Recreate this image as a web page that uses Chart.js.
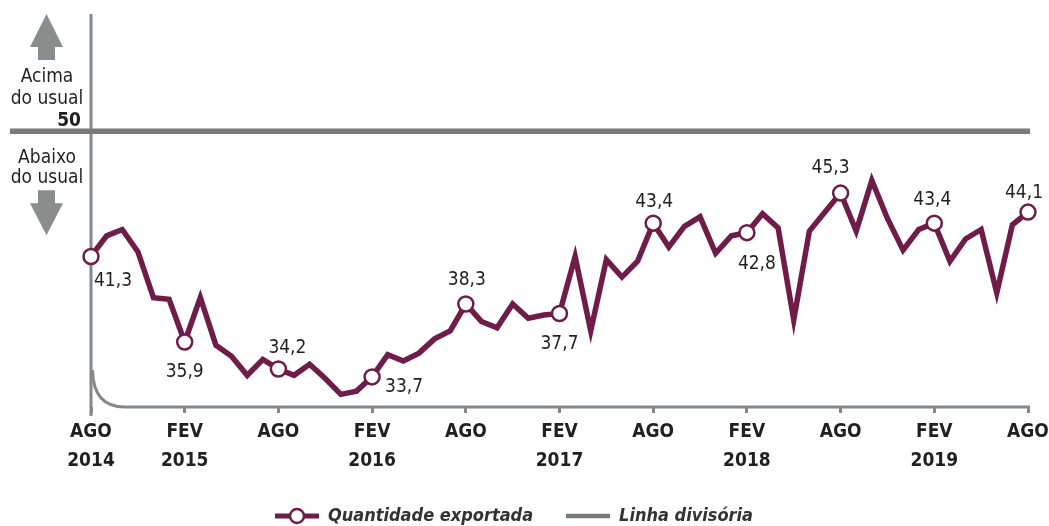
<!DOCTYPE html>
<html lang="pt">
<head>
<meta charset="utf-8">
<title>Quantidade exportada</title>
<script src="https://cdn.jsdelivr.net/npm/chart.js@4.4.1/dist/chart.umd.min.js"></script>
<style>
  html, body { margin: 0; padding: 0; background: #fff; }
  #wrap { width: 1049px; height: 526px; }
</style>
</head>
<body>
<div id="wrap"><canvas id="myChart" width="1049" height="526"></canvas></div>
<script>
// Monthly index, Aug 2014 - Aug 2019 (61 months)
const monthNames = ['JAN', 'FEV', 'MAR', 'ABR', 'MAI', 'JUN', 'JUL', 'AGO', 'SET', 'OUT', 'NOV', 'DEZ'];
const startYear = 2014;
const startMonth = 7; // AGO

const exportedQuantity = [
    41.3, 42.6, 43.0, 41.6, 38.7, 38.6, 35.9, 38.7, 35.7, 35.0,
    33.8, 34.8, 34.2, 33.8, 34.5, 33.6, 32.6, 32.8, 33.7, 35.1,
    34.7, 35.2, 36.1, 36.6, 38.3, 37.2, 36.8, 38.3, 37.4, 37.6,
    37.7, 41.3, 36.6, 41.1, 40.0, 41.0, 43.4, 41.9, 43.2, 43.8,
    41.5, 42.6, 42.8, 44.0, 43.1, 37.3, 42.9, 44.1, 45.3, 42.9,
    46.1, 43.7, 41.7, 43.0, 43.4, 41.0, 42.4, 43.0, 39.0, 43.3,
    44.1
];
const dividerLevel = 49.2; // "50" line, as drawn in the source

const tickLabels = [
    ['AGO', '2014'], ['FEV', '2015'], ['AGO'], ['FEV', '2016'], ['AGO'], ['FEV', '2017'],
    ['AGO'], ['FEV', '2018'], ['AGO'], ['FEV', '2019'], ['AGO']
];
const tickStep = 6;
const yMin = 31.8;
const yMax = 56.6;
const seriesNames = ['Quantidade exportada', 'Linha divisória'];

// categories
const months = exportedQuantity.map((_, i) => {
    const m = startMonth + i;
    return monthNames[m % 12] + ' ' + (startYear + Math.floor(m / 12));
});

// styles
const FONT = "'DejaVu Sans Condensed', 'DejaVu Sans', sans-serif";
const maroon = '#701c48';
const dividerGrey = '#777b7b';
const axisGrey = '#858888';
const arrowGrey = '#8b8c8c';
const textColor = '#231f20';

// where each value label sits relative to its marker
const labelPlacement = {
    0: { dx: 3, dy: 30, align: 'left' },
    6: { dx: 0, dy: 35 },
    12: { dx: 9, dy: -16 },
    18: { dx: 13, dy: 15, align: 'left' },
    24: { dx: 1, dy: -19 },
    30: { dx: 0, dy: 35 },
    36: { dx: 1, dy: -16 },
    42: { dx: 10, dy: 36 },
    48: { dx: -10, dy: -20 },
    54: { dx: -2, dy: -18 },
    60: { dx: -4, dy: -14 }
};

function fmt(v) {
    return v.toFixed(1).replace('.', ',');
}

// legend icons
function makeIcon(withCircle, color, lw) {
    const c = document.createElement('canvas');
    c.width = 44;
    c.height = 20;
    const g = c.getContext('2d');
    g.strokeStyle = color;
    g.lineWidth = lw;
    g.beginPath();
    g.moveTo(0, 10);
    g.lineTo(44, 10);
    g.stroke();
    if (withCircle) {
        g.beginPath();
        g.arc(22, 10, 7, 0, Math.PI * 2);
        g.fillStyle = '#fff';
        g.fill();
        g.lineWidth = 2.5;
        g.stroke();
    }
    return c;
}
const legendIcons = [makeIcon(true, maroon, 5), makeIcon(false, dividerGrey, 4.5)];

function arrow(ctx, cx, tipY, headY, shaftEndY) {
    ctx.beginPath();
    ctx.moveTo(cx, tipY);
    ctx.lineTo(cx + 16.5, headY);
    ctx.lineTo(cx + 8.5, headY);
    ctx.lineTo(cx + 8.5, shaftEndY);
    ctx.lineTo(cx - 8.5, shaftEndY);
    ctx.lineTo(cx - 8.5, headY);
    ctx.lineTo(cx - 16.5, headY);
    ctx.closePath();
    ctx.fill();
}

const decorations = {
    id: 'decorations',
    beforeDatasetsDraw(chart) {
        const { ctx, chartArea: a, scales: { y } } = chart;
        const yDiv = y.getPixelForValue(dividerLevel);
        ctx.save();

        // y axis line
        ctx.strokeStyle = axisGrey;
        ctx.lineWidth = 3;
        ctx.beginPath();
        ctx.moveTo(a.left, a.top);
        ctx.lineTo(a.left, a.bottom + 9);
        ctx.stroke();

        // x axis line with the broken-axis curve
        ctx.beginPath();
        ctx.moveTo(a.left + 1.5, a.bottom - 37);
        ctx.quadraticCurveTo(a.left + 2, a.bottom, a.left + 34, a.bottom);
        ctx.lineTo(a.right + 2, a.bottom);
        ctx.stroke();

        // divider runs out to the left labels
        ctx.strokeStyle = dividerGrey;
        ctx.lineWidth = 5.5;
        ctx.beginPath();
        ctx.moveTo(10, yDiv);
        ctx.lineTo(a.left, yDiv);
        ctx.moveTo(a.right, yDiv);
        ctx.lineTo(a.right + 2, yDiv);
        ctx.stroke();

        // arrows
        ctx.fillStyle = arrowGrey;
        arrow(ctx, 46.5, a.top, a.top + 33, a.top + 46);
        arrow(ctx, 46.5, yDiv + 104, yDiv + 72, yDiv + 59);

        // side texts
        ctx.fillStyle = textColor;
        ctx.textBaseline = 'alphabetic';
        ctx.font = '19px ' + FONT;
        ctx.textAlign = 'center';
        ctx.fillText('Acima', 47, yDiv - 49);
        ctx.fillText('do usual', 47, yDiv - 27);
        ctx.fillText('Abaixo', 47, yDiv + 32);
        ctx.fillText('do usual', 47, yDiv + 52);
        ctx.textAlign = 'right';
        ctx.font = 'bold 19px ' + FONT;
        ctx.fillText('50', 81, yDiv - 5);
        ctx.restore();
    },
    afterDatasetsDraw(chart) {
        const { ctx } = chart;
        const meta = chart.getDatasetMeta(0);
        ctx.save();
        ctx.font = '19px ' + FONT;
        ctx.fillStyle = textColor;
        ctx.textBaseline = 'alphabetic';
        Object.keys(labelPlacement).forEach(k => {
            const i = Number(k);
            const p = labelPlacement[k];
            const pt = meta.data[i];
            ctx.textAlign = p.align || 'center';
            ctx.fillText(fmt(exportedQuantity[i]), pt.x + p.dx, pt.y + p.dy);
        });
        ctx.restore();
    }
};

const ctx = document.getElementById('myChart').getContext('2d');
const myChart = new Chart(ctx, {
    type: 'line',
    data: {
        labels: months,
        datasets: [{
            label: seriesNames[0],
            data: exportedQuantity,
            borderColor: maroon,
            borderWidth: 5.5,
            tension: 0,
            pointRadius: c => (c.dataIndex % tickStep === 0 ? 7.5 : 0),
            pointBackgroundColor: '#fff',
            pointBorderColor: maroon,
            pointBorderWidth: 2.5
        }, {
            label: seriesNames[1],
            data: exportedQuantity.map(() => dividerLevel),
            borderColor: dividerGrey,
            borderWidth: 5.5,
            pointRadius: 0
        }]
    },
    options: {
        responsive: false,
        animation: false,
        events: [],
        layout: { padding: { left: 0, right: 21, top: 14, bottom: 0 } },
        scales: {
            x: {
                offset: false,
                border: { display: false },
                grid: {
                    drawOnChartArea: false,
                    drawTicks: true,
                    tickLength: 6,
                    tickWidth: 3,
                    tickColor: axisGrey,
                    color: 'rgba(0,0,0,0)'
                },
                ticks: {
                    autoSkip: false,
                    maxRotation: 0,
                    padding: 5,
                    color: textColor,
                    font: { family: FONT, size: 19, weight: 'bold', lineHeight: 1.5 },
                    callback: (val, i) => (i % tickStep === 0 ? tickLabels[i / tickStep] : null)
                },
                afterFit: s => {
                    s.height = 67;
                    s.paddingLeft = 0;
                    s.paddingRight = 0;
                }
            },
            y: {
                min: yMin,
                max: yMax,
                border: { display: false },
                grid: { display: false },
                ticks: { display: false },
                afterFit: s => { s.width = 91; }
            }
        },
        plugins: {
            tooltip: { enabled: false },
            legend: {
                position: 'bottom',
                maxHeight: 52,
                labels: {
                    usePointStyle: true,
                    pointStyleWidth: 44,
                    padding: 33,
                    color: '#333',
                    font: { family: FONT, size: 18, weight: 'bold', style: 'italic' },
                    generateLabels: chart => chart.data.datasets.map((ds, i) => ({
                        text: ds.label,
                        pointStyle: legendIcons[i],
                        fontColor: '#333',
                        fillStyle: 'rgba(0,0,0,0)',
                        strokeStyle: 'rgba(0,0,0,0)',
                        lineWidth: 0,
                        hidden: false,
                        datasetIndex: i
                    }))
                }
            }
        }
    },
    plugins: [decorations]
});
</script>
</body>
</html>
